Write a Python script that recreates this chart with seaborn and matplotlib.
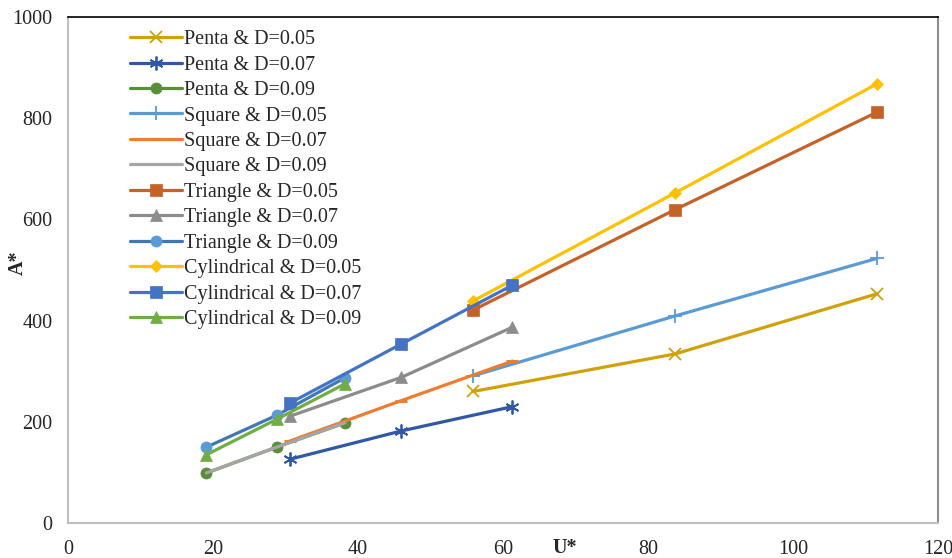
import matplotlib
matplotlib.use("Agg")
import matplotlib.pyplot as plt
import seaborn as sns
import pandas as pd

# ---- data ----
labels = ["Penta & D=0.05", "Penta & D=0.07", "Penta & D=0.09",
          "Square & D=0.05", "Square & D=0.07", "Square & D=0.09",
          "Triangle & D=0.05", "Triangle & D=0.07", "Triangle & D=0.09",
          "Cylindrical & D=0.05", "Cylindrical & D=0.07", "Cylindrical & D=0.09"]

u_d05 = [55.9, 83.7, 111.6]
u_d07 = [30.6, 46.0, 61.3]
u_d09 = [19.1, 28.8, 38.2]

penta_05 = [260, 334, 453]
penta_07 = [126, 182, 230]
penta_09 = [99, 150, 198]
square_05 = [291, 409, 523]
square_07 = [162, 242, 320]
square_09 = [99, 150, 198]
triangle_05 = [421, 619, 812]
triangle_07 = [211, 288, 387]
triangle_09 = [150, 213, 287]
cyl_05 = [439, 652, 868]
cyl_07 = [237, 354, 470]
cyl_09 = [135, 205, 275]

x_ticks = [0, 20, 40, 60, 80, 100, 120]
y_ticks = [0, 200, 400, 600, 800, 1000]

series_x = [u_d05, u_d07, u_d09] * 4
series_y = [penta_05, penta_07, penta_09, square_05, square_07, square_09,
            triangle_05, triangle_07, triangle_09, cyl_05, cyl_07, cyl_09]

# ---- styles ----
line_colors = ["#D1A10B", "#3058A6", "#5A8E3A", "#5B9BD5", "#ED7D31", "#A5A5A5",
               "#C5622A", "#8C8C8C", "#3F78B5", "#FFC000", "#4472C4", "#70AD47"]
marker_colors = ["#D1A10B", "#3058A6", "#5A8E3A", "#5B9BD5", "#ED7D31", "#A5A5A5",
                 "#C5622A", "#8C8C8C", "#5B9BD5", "#FFC000", "#4472C4", "#70AD47"]
markers = ["x", (6, 2, 0), "o", "+", "_", None, "s", "^", "o", "D", "s", "^"]
msizes = [9, 10, 8, 10, 8, 0, 8, 9, 8, 6.5, 8, 9]

sns.set_style("white")
plt.rcParams["font.family"] = ["Liberation Serif", "DejaVu Serif"]

fig = plt.figure(figsize=(9.53, 5.58), dpi=100)
ax = fig.add_axes([68 / 953, 35 / 558, 870 / 953, 506 / 558])

for xs, ys, lab, lc, mc, mk, ms in zip(series_x, series_y, labels, line_colors,
                                       marker_colors, markers, msizes):
    df = pd.DataFrame({"U": xs, "A": ys})
    kw = dict(marker=mk, markersize=ms, markerfacecolor=mc, markeredgecolor=mc)
    if mk in ["x", (6, 2, 0), "+", "_"]:
        kw["markeredgewidth"] = 1.3 if mk != "_" else 2.2
    else:
        kw["markeredgewidth"] = 0.5
    if mk is None:
        kw = {}
    sns.lineplot(data=df, x="U", y="A", ax=ax, color=lc, linewidth=2.3,
                 label=lab, sort=False, estimator=None, **kw)

ax.set_xlim(0, 120)
ax.set_ylim(0, 1000)
ax.set_xticks(x_ticks)
ax.set_yticks(y_ticks)
ax.set_xticklabels([str(t) for t in x_ticks], fontsize=14.5)
ax.set_yticklabels([str(t) for t in y_ticks], fontsize=14.5)
ax.tick_params(axis="both", length=0)
ax.tick_params(axis="y", pad=11)
ax.tick_params(axis="x", pad=12)

for side in ["left", "bottom"]:
    ax.spines[side].set_color("#BFBFBF")
    ax.spines[side].set_linewidth(1.5)
ax.spines["right"].set_color("#8C8C8C")
ax.spines["right"].set_linewidth(1.5)
ax.spines["top"].set_color("#000000")
ax.spines["top"].set_linewidth(1.2)

ax.set_xlabel("U*", fontsize=14.5, fontweight="bold")
ax.xaxis.set_label_coords((565 - 68) / 870, -0.03)
ax.set_ylabel("A*", fontsize=14.5, fontweight="bold")
ax.yaxis.set_label_coords(-0.046, (523 - 263) / 506)

leg = ax.legend(loc="upper left", bbox_to_anchor=(0.062, 0.99), frameon=False,
                fontsize=14.5, handlelength=2.6, handletextpad=0.1,
                labelspacing=0.315, borderaxespad=0.0)

fig.savefig("out.png", dpi=100)
